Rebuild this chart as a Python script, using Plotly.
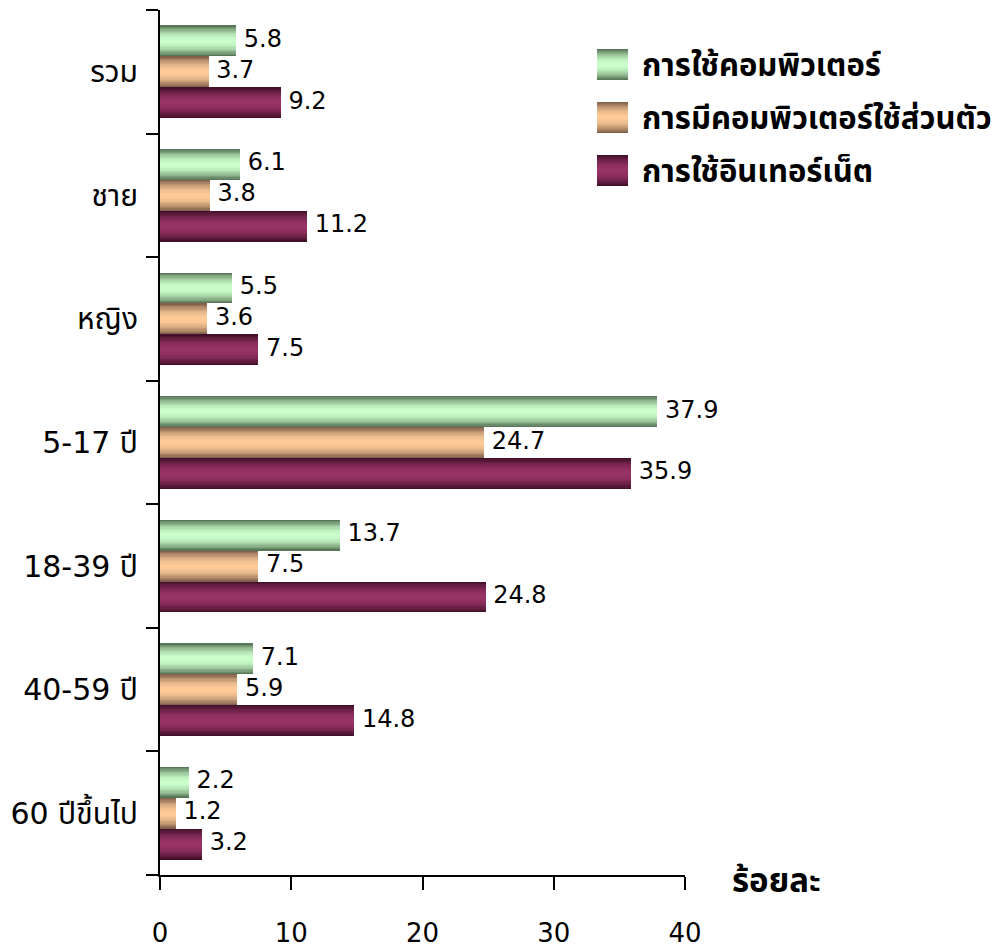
import plotly.graph_objects as go

# data
categories = ["รวม", "ชาย", "หญิง", "5-17 ปี", "18-39 ปี", "40-59 ปี", "60 ปีขึ้นไป"]
computer_use = [5.8, 6.1, 5.5, 37.9, 13.7, 7.1, 2.2]
computer_own = [3.7, 3.8, 3.6, 24.7, 7.5, 5.9, 1.2]
internet_use = [9.2, 11.2, 7.5, 35.9, 24.8, 14.8, 3.2]
series_names = ["การใช้คอมพิวเตอร์", "การมีคอมพิวเตอร์ใช้ส่วนตัว", "การใช้อินเทอร์เน็ต"]
x_ticks = [0, 10, 20, 30, 40]

FONT = "'DejaVu Sans', Tahoma, 'Noto Sans Thai', 'Noto Sans', sans-serif"

# (edge colour, centre colour) for the shaded bars
shades = [
    ((88, 118, 88), (204, 255, 204)),
    ((130, 98, 76), (255, 204, 153)),
    ((66, 16, 42), (153, 51, 102)),
]

def blend(c1, c2, f):
    return "rgb(%d,%d,%d)" % tuple(round(a + (b - a) * f) for a, b in zip(c1, c2))

BAR_W = 0.25
LAYERS = 12
fig = go.Figure()

all_series = [computer_use, computer_own, internet_use]
for s, values in enumerate(all_series):
    offset = (s - 1) * BAR_W
    ypos = [i + offset for i in range(len(categories))]
    edge, centre = shades[s]
    for k in range(LAYERS):
        t = 1 - k / LAYERS
        fig.add_trace(go.Bar(
            x=values, y=ypos, orientation="h", width=BAR_W * t,
            marker=dict(color=blend(centre, edge, t ** 2), line=dict(width=0)),
            showlegend=False, hoverinfo="skip" if k else "x+name",
            name=series_names[s],
        ))
    fig.add_trace(go.Scatter(
        x=values, y=ypos, mode="text",
        text=["\u00a0" + "%.1f" % v for v in values],
        textposition="middle right", cliponaxis=False,
        textfont=dict(size=24, color="black", family=FONT),
        showlegend=False, hoverinfo="skip",
    ))

# plot area in page pixels (the page body adds an 8px margin)
OFF = 8
L, R, T, B = 160, 685, 10, 875
def px_x(p):
    return (p - L) / (R - L)
def px_y(p):
    return (B - p) / (B - T)

legend_tops = [49, 102, 155]
for s, top in enumerate(legend_tops):
    edge, centre = shades[s]
    h = 31
    for k in range(LAYERS):
        t = 1 - k / LAYERS
        y0 = top + h / 2 - h / 2 * t
        y1 = top + h / 2 + h / 2 * t
        fig.add_shape(type="rect", xref="paper", yref="paper",
                      x0=px_x(597), x1=px_x(628), y0=px_y(y1), y1=px_y(y0),
                      fillcolor=blend(centre, edge, t ** 2), line=dict(width=0))
    fig.add_annotation(xref="paper", yref="paper", x=px_x(640), y=px_y(top + h / 2),
                       xanchor="left", yanchor="middle", showarrow=False,
                       text="<b>%s</b>" % series_names[s],
                       font=dict(size=31, color="black", family=FONT))

fig.add_annotation(xref="paper", yref="paper", x=px_x(776), y=px_y(880),
                   xanchor="center", yanchor="middle", showarrow=False,
                   text="<b>ร้อยละ</b>", font=dict(size=33, color="black", family=FONT))

fig.update_layout(
    width=1001, height=949,
    margin=dict(l=L - OFF, r=1001 - (R - OFF), t=T - OFF, b=949 - (B - OFF)),
    plot_bgcolor="white", paper_bgcolor="white",
    barmode="overlay", bargap=0,
    font=dict(family=FONT, size=25, color="black"),
    showlegend=False,
)
fig.update_xaxes(
    range=[0, 40], tickvals=x_ticks, ticks="outside", ticklen=13, tickwidth=2,
    tickcolor="black", showline=True, linecolor="black", linewidth=2,
    showgrid=False, zeroline=False, ticklabelstandoff=21, automargin=False,
    tickfont=dict(size=26),
)
fig.update_yaxes(
    range=[6.5, -0.5], tickvals=list(range(len(categories))), ticktext=categories,
    ticks="", showline=True, linecolor="black", linewidth=2, showgrid=False,
    zeroline=False, ticklabelstandoff=14, tickfont=dict(size=30), automargin=False,
    minor=dict(tickvals=[i - 0.5 for i in range(len(categories) + 1)],
               ticks="outside", ticklen=12, tickwidth=2, tickcolor="black"),
)

fig.write_html("out.html")
